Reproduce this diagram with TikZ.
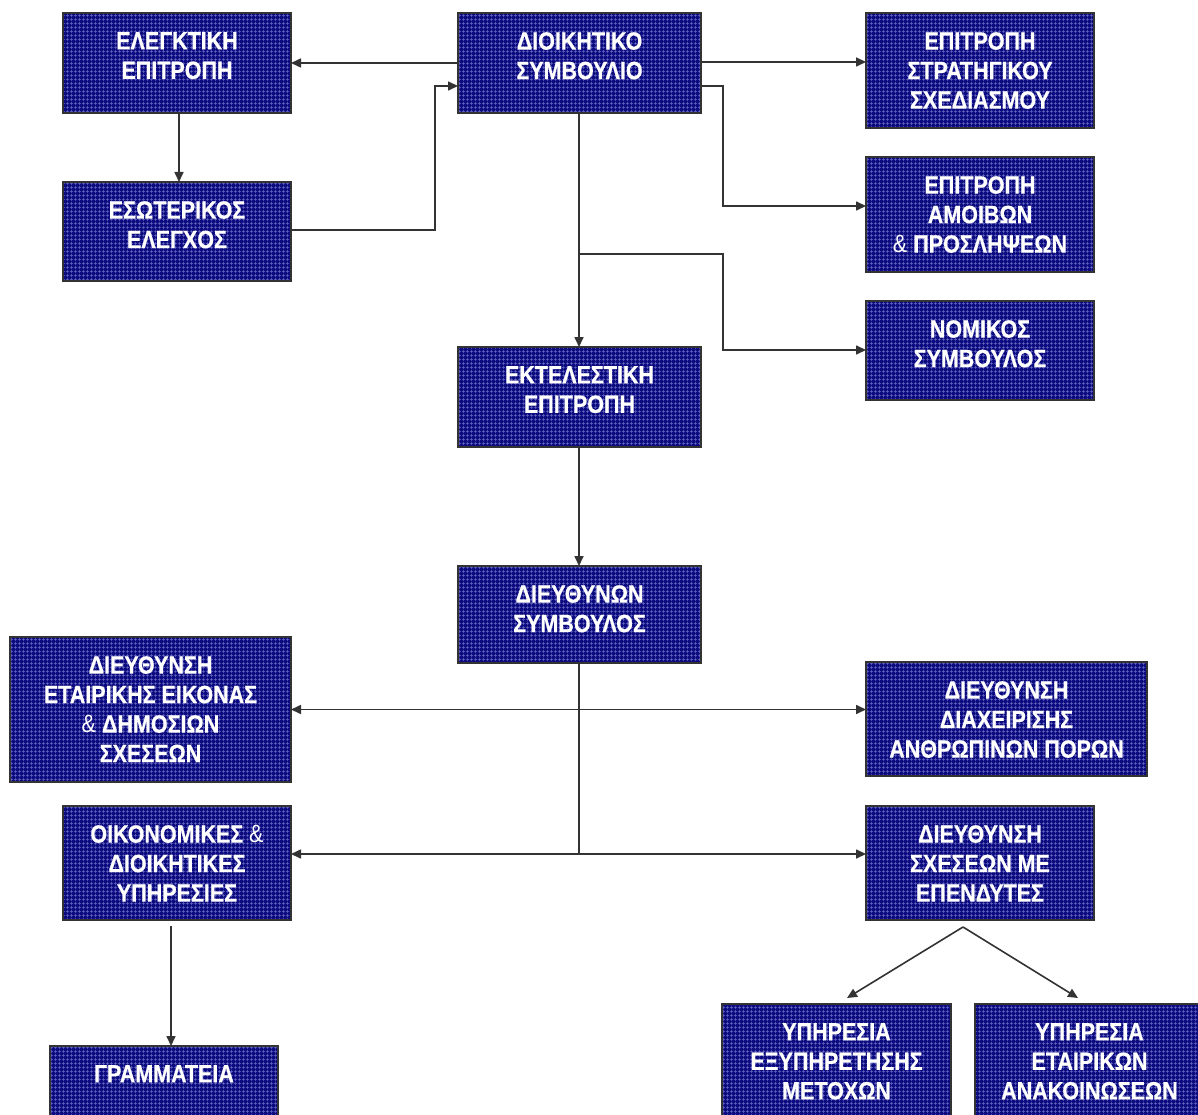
\documentclass[tikz,border=0pt]{standalone}
\usepackage{fontspec}
\newfontfamily\boxfont{Liberation Sans}[FakeStretch=0.86, BoldFeatures={FakeBold=0.6}]
\usetikzlibrary{arrows.meta,patterns.meta}
\definecolor{boxnavy}{RGB}{12,12,128}
\definecolor{gridblue}{RGB}{110,110,200}
\definecolor{linegray}{RGB}{51,51,51}
\tikzset{
  orgbox/.style={draw=linegray, line width=2pt, fill=boxnavy, inner sep=0pt, outer sep=0pt},
  gridfill/.style={pattern={Hatch[angle=0,distance=4pt,line width=0.6pt]}, pattern color=gridblue},
  boxtext/.style={text=white, font=\boxfont\bfseries\fontsize{25}{29.5}\selectfont, align=center, inner sep=0pt, anchor=north},
  conn/.style={draw=linegray, line width=1.6pt},
  arr/.style={conn, -{Triangle[length=10pt,width=9pt]}},
  darr/.style={conn, {Triangle[length=10pt,width=9pt]}-{Triangle[length=10pt,width=9pt]}}
}
\newcommand\orgbox[6]{%
  \node[orgbox, minimum width={(#4-#2)*1pt}, minimum height={(#5-#3)*1pt}] (#1) at ({(#2+#4)/2},{(#3+#5)/2}) {};
  \path[gridfill] (#2,#3) rectangle (#4,#5);
  \draw[linegray, line width=2pt] (#2,#3) rectangle (#4,#5);
  \node[boxtext] (#1-t) at ([yshift=-19pt]#1.north) {#6};
}
\begin{document}
\begin{tikzpicture}[x=1pt,y=-1pt]
\fill[white] (0,0) rectangle (1198,1115);
\useasboundingbox (0,0) rectangle (1198,1115);
\clip (0,0) rectangle (1198,1115);
% boxes
\orgbox{elegk}{63}{13}{291}{113}{ΕΛΕΓΚΤΙΚΗ\\ΕΠΙΤΡΟΠΗ}
\orgbox{esot}{63}{182}{291}{281}{ΕΣΩΤΕΡΙΚΟΣ\\ΕΛΕΓΧΟΣ}
\orgbox{ds}{458}{13}{701}{113}{ΔΙΟΙΚΗΤΙΚΟ\\ΣΥΜΒΟΥΛΙΟ}
\orgbox{ekt}{458}{347}{701}{447}{ΕΚΤΕΛΕΣΤΙΚΗ\\ΕΠΙΤΡΟΠΗ}
\orgbox{strat}{866}{13}{1094}{128}{ΕΠΙΤΡΟΠΗ\\ΣΤΡΑΤΗΓΙΚΟΥ\\ΣΧΕΔΙΑΣΜΟΥ}
\orgbox{amoib}{866}{157}{1094}{272}{ΕΠΙΤΡΟΠΗ\\ΑΜΟΙΒΩΝ\\{\mdseries\&} ΠΡΟΣΛΗΨΕΩΝ}
\orgbox{nom}{866}{301}{1094}{400}{ΝΟΜΙΚΟΣ\\ΣΥΜΒΟΥΛΟΣ}
\orgbox{ceo}{458}{566}{701}{663}{ΔΙΕΥΘΥΝΩΝ\\ΣΥΜΒΟΥΛΟΣ}
\orgbox{pr}{10}{637}{291}{782}{ΔΙΕΥΘΥΝΣΗ\\ΕΤΑΙΡΙΚΗΣ ΕΙΚΟΝΑΣ\\{\mdseries\&} ΔΗΜΟΣΙΩΝ\\ΣΧΕΣΕΩΝ}
\orgbox{hr}{866}{662}{1147}{776}{ΔΙΕΥΘΥΝΣΗ\\ΔΙΑΧΕΙΡΙΣΗΣ\\ΑΝΘΡΩΠΙΝΩΝ ΠΟΡΩΝ}
\orgbox{oik}{63}{806}{291}{920}{ΟΙΚΟΝΟΜΙΚΕΣ {\mdseries\&}\\ΔΙΟΙΚΗΤΙΚΕΣ\\ΥΠΗΡΕΣΙΕΣ}
\orgbox{inv}{866}{806}{1094}{920}{ΔΙΕΥΘΥΝΣΗ\\ΣΧΕΣΕΩΝ ΜΕ\\ΕΠΕΝΔΥΤΕΣ}
\orgbox{gram}{50}{1046}{278}{1146}{ΓΡΑΜΜΑΤΕΙΑ}
\orgbox{meto}{722}{1004}{951}{1119}{ΥΠΗΡΕΣΙΑ\\ΕΞΥΠΗΡΕΤΗΣΗΣ\\ΜΕΤΟΧΩΝ}
\orgbox{anak}{975}{1004}{1204}{1119}{ΥΠΗΡΕΣΙΑ\\ΕΤΑΙΡΙΚΩΝ\\ΑΝΑΚΟΙΝΩΣΕΩΝ}
% junction coordinates
\coordinate (j1) at (435,86);
\coordinate (j2) at (723,86);
\coordinate (j3) at (723,206);
\coordinate (j4) at (579,254);
\coordinate (j5) at (723,350);
\coordinate (j6) at (579,854);
\coordinate (j7) at (171,926);
\coordinate (j8) at (963,927);
\coordinate (j9) at (847,998);
\coordinate (j10) at (1078,998);
% connectors
\draw[arr] (ds.west) -- (elegk.east);
\draw[arr] (elegk.south -| 179,0) -- (esot.north -| 179,0);
\draw[arr] (esot.east |- 0,230) -| (j1) -- (ds.west |- j1);
\draw[arr] (ds.east |- 0,62) -- (strat.west |- 0,62);
\draw[arr] (ds.east |- j2) -- (j2) -- (j3) -- (amoib.west |- j3);
\draw[arr] (ds.south -| j4) -- (ekt.north -| j4);
\draw[arr] (j4) -| (j5) -- (nom.west |- j5);
\draw[arr] (ekt.south -| j4) -- (ceo.north -| j4);
\draw[conn] (ceo.south -| j6) -- (j6);
\draw[darr] (pr.east) -- (pr.east -| hr.west);
\draw[darr] (oik.east |- j6) -- (inv.west |- j6);
\draw[arr] (j7) -- (gram.north -| j7);
\draw[arr] (j8) -- (j9);
\draw[arr] (j8) -- (j10);
\end{tikzpicture}
\end{document}
